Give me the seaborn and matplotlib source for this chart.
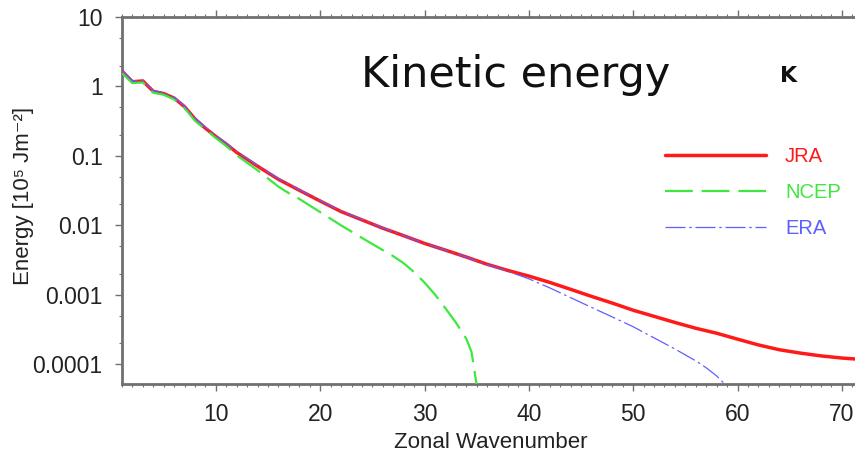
import numpy as np
import pandas as pd
import matplotlib
matplotlib.use("Agg")
import matplotlib.pyplot as plt
from matplotlib.ticker import LogLocator, MultipleLocator, FuncFormatter, NullFormatter
import seaborn as sns

# Zonal kinetic energy spectra (10^5 J m^-2) for three reanalyses
jra_k = [1, 2, 3, 4, 5, 6, 7, 8, 9, 10, 11, 12, 14, 16, 18, 20, 22, 24, 26, 28,
         30, 32, 34, 36, 38, 40, 42, 44, 46, 48, 50, 52, 54, 56, 58, 60, 62,
         64, 66, 68, 70, 72, 74, 76]
jra_e = [1.66, 1.17, 1.20, 0.85, 0.79, 0.68, 0.51, 0.34, 0.25, 0.19, 0.148,
         0.112, 0.071, 0.046, 0.032, 0.0224, 0.0158, 0.012, 0.0091, 0.0071,
         0.0055, 0.0044, 0.0035, 0.00275, 0.00224, 0.00186, 0.00151, 0.00120,
         0.00095, 0.00076, 0.00060, 0.00049, 0.00040, 0.00033, 0.00028,
         0.00023, 0.00019, 0.000162, 0.000145, 0.000132, 0.000123, 0.000117,
         0.000115, 0.000112]

ncep_k = [1, 2, 3, 4, 5, 6, 7, 8, 9, 10, 11, 12, 14, 16, 17, 18, 20, 22, 24,
          26, 27, 28, 29, 30, 31, 32, 33, 34, 34.5, 35, 35.2]
ncep_e = [1.55, 1.12, 1.14, 0.81, 0.76, 0.65, 0.49, 0.32, 0.24, 0.18, 0.138,
          0.102, 0.062, 0.036, 0.029, 0.024, 0.0155, 0.0100, 0.0066, 0.0044,
          0.0036, 0.00285, 0.00212, 0.00150, 0.00101, 0.00064, 0.00040,
          0.000234, 0.000151, 0.00005, 0.00003]

era_k = [1, 2, 3, 4, 5, 6, 7, 8, 9, 10, 11, 12, 14, 16, 18, 20, 22, 24, 26,
         28, 30, 32, 34, 36, 38, 40, 42, 44, 46, 48, 50, 52, 54, 56, 57, 58,
         59, 59.5]
era_e = [1.70, 1.20, 1.23, 0.87, 0.81, 0.70, 0.52, 0.35, 0.26, 0.195, 0.152,
         0.115, 0.073, 0.047, 0.0325, 0.0228, 0.016, 0.0122, 0.0092, 0.0071,
         0.0055, 0.0044, 0.0035, 0.00272, 0.00218, 0.0017, 0.00126, 0.00091,
         0.00066, 0.00048, 0.000347, 0.00024, 0.000166, 0.000112, 0.000089,
         0.000068, 0.000048, 0.00003]

series_names = ["JRA", "NCEP", "ERA"]
y_ticks = [1e-4, 1e-3, 1e-2, 1e-1, 1, 10]
x_ticks = [10, 20, 30, 40, 50, 60, 70]

sns.set_theme(style="ticks")
plt.rcParams["font.family"] = ["Liberation Sans", "DejaVu Sans"]

W, H = 855, 455
fig = plt.figure(figsize=(W / 100, H / 100), dpi=100)
ax = fig.add_axes([122 / W, 71 / H, 772 / W, 367 / H])

spine_col = "#707070"
text_col = "#222222"

df_jra = pd.DataFrame({"k": jra_k, "E": jra_e})
df_ncep = pd.DataFrame({"k": ncep_k, "E": ncep_e})
df_era = pd.DataFrame({"k": era_k, "E": era_e})

sns.lineplot(data=df_jra, x="k", y="E", ax=ax, color="#ff1a1a", lw=2.5,
             label=series_names[0], zorder=3)
sns.lineplot(data=df_ncep, x="k", y="E", ax=ax, color="#3ee83e", lw=1.6,
             label=series_names[1], zorder=3)
sns.lineplot(data=df_era, x="k", y="E", ax=ax, color="#5f5fff", lw=0.9,
             label=series_names[2], zorder=4)
ax.lines[1].set_dashes((12.5, 4))
ax.lines[2].set_dashes((16, 3, 2, 3))

ax.set_yscale("log")
ax.set_xlim(1, 75)
ax.set_ylim(5.2e-5, 10)

ax.set_yticks(y_ticks)
ax.yaxis.set_major_formatter(FuncFormatter(lambda v, p: f"{v:g}"))
ax.yaxis.set_minor_locator(LogLocator(base=10, subs=(2, 5)))
ax.yaxis.set_minor_formatter(NullFormatter())
ax.set_xticks(x_ticks)
ax.xaxis.set_minor_locator(MultipleLocator(1))

for s in ["left", "bottom", "top"]:
    ax.spines[s].set_color(spine_col)
    ax.spines[s].set_linewidth(2.0)
ax.spines["right"].set_visible(False)

ax.tick_params(axis="both", which="major", direction="out", length=5,
               width=1.0, color=spine_col, labelsize=16.5, labelcolor=text_col)
ax.tick_params(axis="both", which="minor", direction="out", length=2.5,
               width=0.8, color=spine_col)
ax.tick_params(axis="x", which="both", top=True)
ax.tick_params(axis="x", which="major", pad=9)
ax.tick_params(axis="y", which="major", pad=9)

ax.set_xlabel("")
ax.set_ylabel("")
fig.text(491 / W, 1 - 443 / H, "Zonal Wavenumber", fontsize=16,
         color=text_col, ha="center", va="center")
fig.text(24 / W, 1 - 196 / H, "Energy [10\u2075 Jm\u207b\u00b2]", fontsize=16,
         color=text_col, ha="center", va="center", rotation=90,
         family=["Liberation Sans", "DejaVu Sans"])

fig.text(361 / W, 1 - 75 / H, "Kinetic energy", fontsize=31,
         family="DejaVu Sans", color="#111111", va="center", ha="left")
fig.text(780 / W, 1 - 76 / H, "K", fontsize=16, fontweight="bold",
         family="DejaVu Sans", color="#111111", va="center", ha="left")

handles = [ax.lines[0], ax.lines[1], ax.lines[2]]
ax.legend(handles=handles, labels=series_names,
          loc="upper left", bbox_to_anchor=(655 / W, 1 - 137 / H),
          bbox_transform=fig.transFigure, frameon=False, fontsize=14.5,
          handlelength=5.0, handletextpad=0.95, labelspacing=0.85,
          labelcolor="linecolor", borderpad=0)

fig.savefig("out.png", dpi=100)
